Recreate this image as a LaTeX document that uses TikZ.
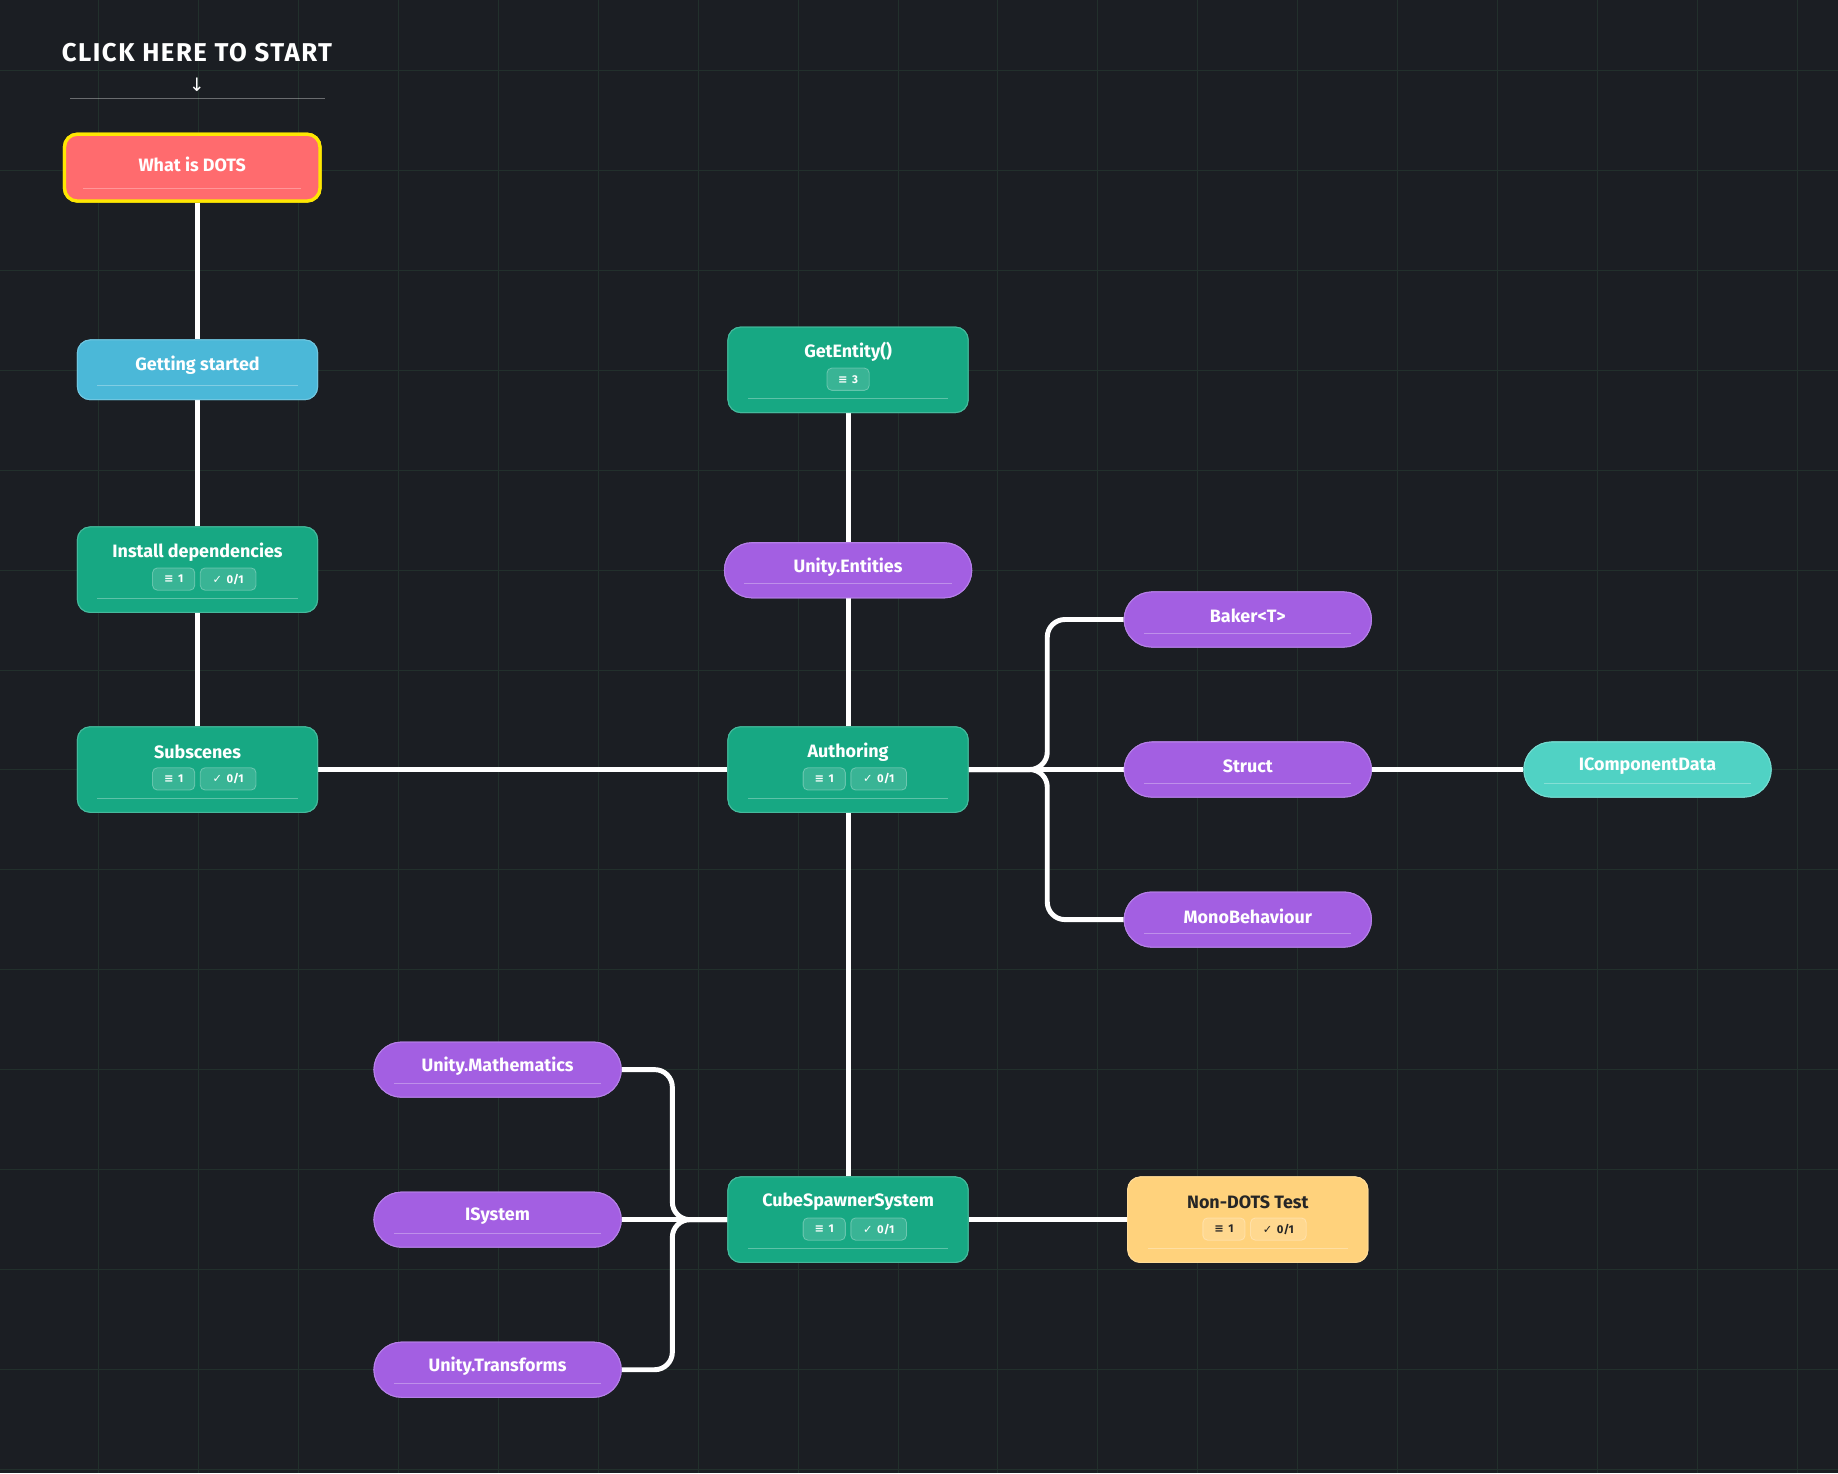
\documentclass[tikz,border=0pt]{standalone}
\usepackage{fontspec}
\setmainfont{Fira Sans}
\newfontfamily\symfont{DejaVu Sans}
\newfontfamily\headfont[LetterSpace=6]{Fira Sans}
\usetikzlibrary{positioning}
\definecolor{bgc}{HTML}{1B1E23}
\definecolor{gridc}{HTML}{22302C}
\definecolor{redc}{HTML}{FF6B6E}
\definecolor{bluec}{HTML}{4BB8D8}
\definecolor{greenc}{HTML}{17A883}
\definecolor{purplec}{HTML}{A35FE2}
\definecolor{tealc}{HTML}{50D2C4}
\definecolor{yellowc}{HTML}{FFD27C}
\tikzset{
  card/.style={rounded corners=0.22cm, minimum width=4.1cm, minimum height=1.46cm, draw=#1!80!white, fill=#1, line width=0.5pt},
  pill/.style={rounded corners=0.47cm, minimum width=4.22cm, minimum height=0.94cm, draw=#1!80!white, fill=#1, line width=0.5pt},
  reddots/.style={card=redc, draw=yellow!90!orange, line width=1.6pt, minimum width=4.36cm, minimum height=1.14cm},
  title/.style={text=white, font=\fontsize{8.7}{10}\selectfont\bfseries},
  badge/.style={rounded corners=0.08cm, fill=white, fill opacity=0.15, draw=white, draw opacity=0.3, text opacity=1, text=white, inner sep=0pt, minimum height=0.38cm, font=\fontsize{5.5}{6}\selectfont\bfseries},
  conn/.style={draw=white, line width=2.4pt, rounded corners=0.3cm},
}
% separator line near the bottom of a node
\newcommand{\sepline}[1]{\draw[white, opacity=0.3, line width=0.4pt] ([xshift=0.35cm, yshift=0.25cm]#1.south west) -- ([xshift=-0.35cm, yshift=0.25cm]#1.south east);}
% the two count badges of a card
\newcommand{\badges}[2][white]{%
  \node[badge, text=#1, minimum width=0.72cm, anchor=east] (#2b1) at ([xshift=-0.04cm, yshift=-0.16cm]#2.center) {{\symfont ≡}\, 1};
  \node[badge, text=#1, minimum width=0.95cm, anchor=west] (#2b2) at ([xshift=0.04cm, yshift=-0.16cm]#2.center) {{\symfont ✓}\, 0/1};}
\begin{document}
\begin{tikzpicture}[x=0.02cm, y=-0.02cm]
  \fill[bgc] (0,0) rectangle (1568,1257);
  \useasboundingbox (0,0) rectangle (1568,1257);
  % grid
  \foreach \i in {0,...,18} {\draw[gridc, line width=0.4pt] ({-1.7+85.3*\i},0) -- ({-1.7+85.3*\i},1257);}
  \foreach \j in {0,...,14} {\draw[gridc, line width=0.4pt] (0,{59.7+85.3*\j}) -- (1568,{59.7+85.3*\j});}

  % header
  \node[text=white, font=\headfont\fontsize{12.5}{14}\selectfont\bfseries] (start) at (168,45) {CLICK HERE TO START};
  \node[text=white, font=\symfont\fontsize{9}{10}\selectfont] (arrow) at (168,72) {↓};
  \coordinate (hl) at (60,84);
  \coordinate (hr) at (277,84);
  \draw[white, opacity=0.35, line width=0.5pt] (hl) -- (hr);

  % node positions
  \node[reddots] (dots) at (164,143) {};
  \node[card=bluec, minimum height=1.02cm] (start2) at (168.5,315.5) {};
  \node[card=greenc] (install) at (168.5,486) {};
  \node[card=greenc] (subs) at (168.5,656.5) {};
  \node[card=greenc] (getent) at (723.5,315.5) {};
  \node[pill=purplec] (uent) at (723.5,486.5) {};
  \node[card=greenc] (auth) at (723.5,656.5) {};
  \node[pill=purplec] (baker) at (1064.5,528.5) {};
  \node[pill=purplec] (struct) at (1064.5,656.5) {};
  \node[pill=tealc] (icd) at (1405.5,656.5) {};
  \node[pill=purplec] (mono) at (1064.5,784.5) {};
  \node[pill=purplec] (umath) at (424.5,912.5) {};
  \node[pill=purplec] (isys) at (424.5,1040.5) {};
  \node[pill=purplec] (utrans) at (424.5,1168.5) {};
  \node[card=greenc] (cube) at (723.5,1040.5) {};
  \node[card=yellowc] (nondots) at (1064.5,1040.5) {};

  % connectors
  \draw[conn] (start2.north |- dots.south) -- (start2.north);
  \draw[conn] (start2) -- (install);
  \draw[conn] (install) -- (subs);
  \draw[conn] (subs) -- (auth);
  \draw[conn] (getent) -- (uent);
  \draw[conn] (uent) -- (auth);
  \draw[conn] (auth) -- (cube);
  \draw[conn] (auth.east) -- ++(67,0) |- (baker.west);
  \draw[conn] (auth.east) -- (struct.west);
  \draw[conn] (auth.east) -- ++(67,0) |- (mono.west);
  \draw[conn] (struct) -- (icd);
  \draw[conn] (cube.west) -- ++(-47,0) |- (umath.east);
  \draw[conn] (cube.west) -- (isys.east);
  \draw[conn] (cube.west) -- ++(-47,0) |- (utrans.east);
  \draw[conn] (cube) -- (nondots);

  % nodes again on top of the lines
  \node[reddots] at (dots) {};
  \node[card=bluec, minimum height=1.02cm] at (start2) {};
  \foreach \n in {install,subs,getent,auth,cube} {\node[card=greenc] at (\n) {};}
  \foreach \n in {uent,baker,struct,mono,umath,isys,utrans} {\node[pill=purplec] at (\n) {};}
  \node[pill=tealc] at (icd) {};
  \node[card=yellowc] at (nondots) {};

  % titles
  \node[title] (t1) at ([yshift=0.06cm]dots.center) {What is DOTS};
  \node[title] (t2) at ([yshift=0.08cm]start2.center) {Getting started};
  \foreach \n/\t in {install/Install dependencies, subs/Subscenes, getent/GetEntity(), auth/Authoring, cube/CubeSpawnerSystem}
    {\node[title] (t\n) at ([yshift=0.3cm]\n.center) {\t};}
  \node[title, text=black!85] (tnon) at ([yshift=0.3cm]nondots.center) {Non-DOTS Test};
  \foreach \n/\t in {uent/Unity.Entities, baker/Baker<T>, struct/Struct, icd/IComponentData, mono/MonoBehaviour, umath/Unity.Mathematics, isys/ISystem, utrans/Unity.Transforms}
    {\node[title] (t\n) at ([yshift=0.06cm]\n.center) {\t};}

  % badges
  \badges{install}
  \badges{subs}
  \badges{auth}
  \badges{cube}
  \badges[black!85]{nondots}
  \node[badge, minimum width=0.72cm] (getentb) at ([yshift=-0.16cm]getent.center) {{\symfont ≡}\, 3};

  % separators
  \foreach \n in {dots,start2,install,subs,getent,uent,auth,baker,struct,icd,mono,umath,isys,utrans,cube,nondots}
    {\sepline{\n}}
\end{tikzpicture}
\end{document}
